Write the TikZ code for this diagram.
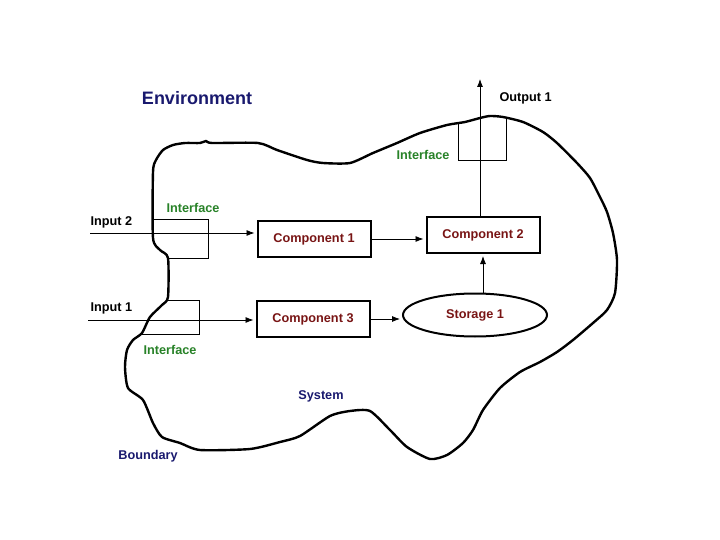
\documentclass[tikz,border=0pt]{standalone}
\usepackage{fontspec}
\setmainfont{Liberation Sans}
\usetikzlibrary{shapes.geometric,arrows.meta}
\definecolor{envblue}{RGB}{25,25,110}
\definecolor{ifgreen}{RGB}{40,130,40}
\definecolor{compred}{RGB}{120,20,20}

\begin{document}
\begin{tikzpicture}[
    x=1pt,y=-1pt,
    lbl/.style={font=\fontsize{12.7}{15}\selectfont\bfseries},
    comp/.style={lbl,draw,line width=2pt,text=compred,minimum width=113pt,minimum height=36pt,inner sep=0pt},
    store/.style={comp,ellipse,minimum width=144pt,minimum height=43pt},
    iface/.style={lbl,text=ifgreen},
    sys/.style={lbl,text=envblue},
    flow/.style={-{Latex[length=8pt,width=6pt]},line width=0.8pt,shorten >=2pt}
]
    \useasboundingbox (0,0) rectangle (720,540);
    \draw[line width=2.4pt,line join=round] plot[smooth cycle,tension=0.4] coordinates {
        (153,238) (153,172) (156,160) (163,150) (173,145) (185,143) (200,143) (206,141)
        (212,143) (258,143) (277,150) (307,160) (323,163) (350,163) (373,153) (397,143)
        (420,133) (447,125) (465,122) (480,118) (490,116) (503,117) (523,122) (543,132)
        (557,143) (577,163) (590,178) (600,197) (607,212) (613,233) (617,260) (615,293)
        (607,310) (593,323) (573,340) (557,352) (540,362) (520,372) (500,388) (483,410)
        (473,430) (463,443) (447,455) (430,459) (407,447) (390,430) (370,411) (350,411)
        (330,416) (300,436) (280,442) (250,449) (200,450) (180,443) (162,437) (153,423)
        (143,400) (128,388) (125,367) (127,350) (133,340) (142,333) (150,317) (162,305)
        (168,297) (168,258) (160,250)
    };
    \draw[line width=0.8pt] (153,219) -- (208,219) -- (208,258) -- (168,258);
    \draw[line width=0.8pt] (166,300) -- (199,300) -- (199,334) -- (142,334);
    \draw[line width=0.8pt] (458,123) -- (458,160) -- (506,160) -- (506,118);

    \node[comp] (c1) at (314,239) {Component 1};
    \node[comp] (c3) at (313,319) {Component 3};
    \node[comp] (c2) at (483,235) {Component 2};
    \node[store] (st) at (475,315) {Storage 1};

    \coordinate (in2) at (90,233);
    \coordinate (in1) at (88,320);
    \coordinate (out1) at (480,79);

    \draw[flow] (in2) -- (in2 -| c1.west);
    \draw[flow] (in1) -- (in1 -| c3.west);
    \draw[flow] (c1) -- (c1 -| c2.west);
    \draw[flow] (c3.east) -- (c3.east -| st.west);
    \draw[flow] (c2.south |- st.north) -- (c2.south);
    \draw[flow,shorten >=0pt] ([xshift=-3pt]c2.north) -- (out1);

    \node[lbl,anchor=west] (in2lbl) at (87,222) {Input 2};
    \node[lbl,anchor=west] (in1lbl) at (87,308) {Input 1};
    \node[lbl,anchor=west] (out1lbl) at (496,98) {Output 1};
    \node[iface] (if2) at (193,208) {Interface};
    \node[iface] (if1) at (170,350) {Interface};
    \node[iface] (if3) at (423,155) {Interface};
    \node[sys] (sysl) at (321,396) {System};
    \node[sys] (bnd) at (148,456) {Boundary};
    \node[sys,font=\fontsize{18}{21}\selectfont\bfseries] (env) at (197,98) {Environment};
\end{tikzpicture}
\end{document}
